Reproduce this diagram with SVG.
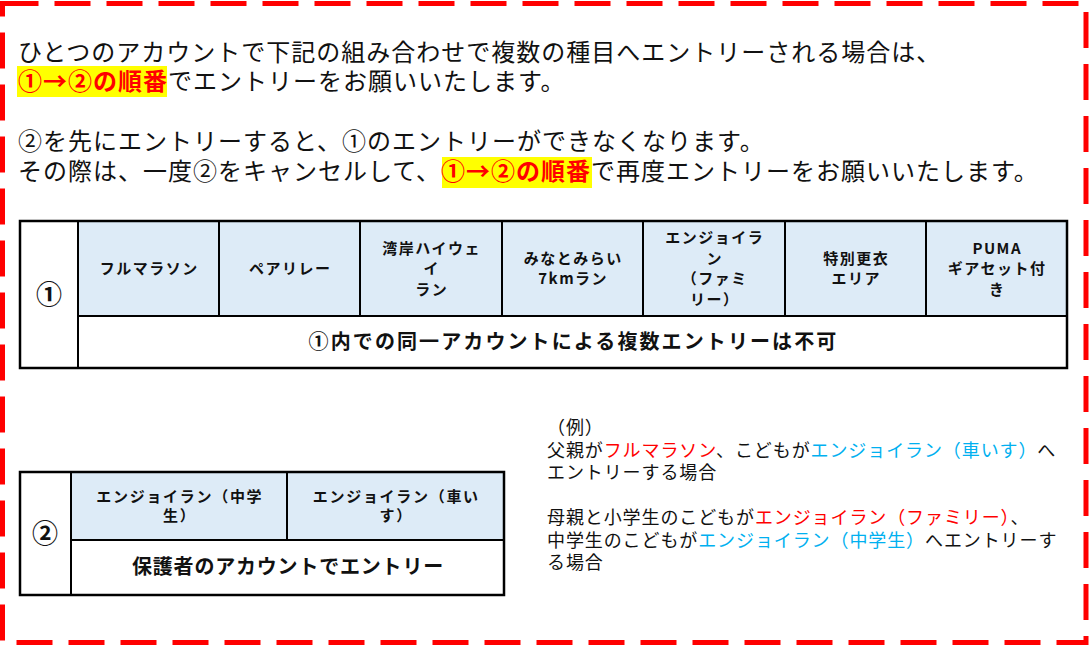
<svg xmlns="http://www.w3.org/2000/svg" width="1089" height="645" viewBox="0 0 1089 645">
<style>
text{font-family:"Noto Sans CJK JP","Noto Sans CJK SC",sans-serif;fill:#111;}
.body{font-size:24px;letter-spacing:1px;}
.hl{fill:#FFFF00;}
.em{fill:#FF0000;font-weight:bold;}
.cell{fill:#DDEBF7;}
.grid{fill:none;stroke:#000;stroke-width:2;}
.hd{font-size:15px;font-weight:bold;letter-spacing:1.5px;text-anchor:middle;}
.big{font-size:20px;font-weight:bold;text-anchor:middle;}
.num{font-size:26px;font-weight:bold;text-anchor:middle;}
.ex{font-size:18px;letter-spacing:0.9px;}
.r{fill:#FF0000;}
.b{fill:#00B0F0;}
</style>
<rect width="1089" height="645" fill="#fff"/>
<rect id="frame" x="2.5" y="3.5" width="1083.5" height="639" fill="none" stroke="#FF0000" stroke-width="5" stroke-dasharray="36 16"/>
<g id="connectors"/>
<g id="intro">
<rect class="hl" x="17" y="66" width="150" height="31"/>
<rect class="hl" x="442" y="157" width="150" height="31"/>
<text class="body" x="18" y="61">ひとつのアカウントで下記の組み合わせで複数の種目へエントリーされる場合は、</text>
<text class="body" x="18" y="90"><tspan class="em">①→②の順番</tspan>でエントリーをお願いいたします。</text>
<text class="body" x="18" y="150">②を先にエントリーすると、①のエントリーができなくなります。</text>
<text class="body" x="18" y="180">その際は、一度②をキャンセルして、<tspan class="em">①→②の順番</tspan>で再度エントリーをお願いいたします。</text>
</g>
<g id="table1">
<rect class="cell" x="78" y="221" width="989" height="95"/>
<rect x="20" y="221" width="1047" height="147" fill="none" stroke="#000" stroke-width="2.5"/>
<path class="grid" d="M78 221V368M219 221V316M360 221V316M502 221V316M643 221V316M785 221V316M926 221V316M78 316H1067"/>
<text class="num" x="49" y="304">①</text>
<text class="hd" x="149.2" y="274">フルマラソン</text>
<text class="hd" x="290.2" y="274">ペアリレー</text>
<text class="hd" x="431.7" y="253.5">湾岸ハイウェ<tspan x="431.7" y="274">イ</tspan><tspan x="431.7" y="294.5">ラン</tspan></text>
<text class="hd" x="573.2" y="263.5">みなとみらい<tspan x="573.2" y="284">7kmラン</tspan></text>
<text class="hd" x="714.7" y="243">エンジョイラ<tspan x="714.7" y="263.5">ン</tspan><tspan x="714.7" y="284">（ファミ</tspan><tspan x="714.7" y="304.5">リー）</tspan></text>
<text class="hd" x="856.2" y="263.5">特別更衣<tspan x="856.2" y="284">エリア</tspan></text>
<text class="hd" x="997.2" y="253.5">PUMA<tspan x="997.2" y="274">ギアセット付</tspan><tspan x="997.2" y="294.5">き</tspan></text>
<text class="big" x="573.5" y="349" style="letter-spacing:2.1px">①内での同一アカウントによる複数エントリーは不可</text>
</g>
<g id="table2">
<rect class="cell" x="71" y="472" width="433" height="68"/>
<rect x="20" y="472" width="484" height="123" fill="none" stroke="#000" stroke-width="2.5"/>
<path class="grid" d="M71 472V595M287 472V540M71 540H504"/>
<text class="num" x="45" y="543">②</text>
<text class="hd" x="179.8" y="501.5" style="letter-spacing:1.7px">エンジョイラン（中学<tspan x="179.8" y="521">生）</tspan></text>
<text class="hd" x="396.3" y="501.5" style="letter-spacing:1.7px">エンジョイラン（車い<tspan x="396.3" y="521">す）</tspan></text>
<text class="big" x="288" y="574" style="letter-spacing:0.8px">保護者のアカウントでエントリー</text>
</g>
<g id="example">
<text class="ex" x="547" y="433.5">（例）</text>
<text class="ex" x="547" y="457">父親が<tspan class="r">フルマラソン</tspan>、こどもが<tspan class="b">エンジョイラン（車いす）</tspan>へ</text>
<text class="ex" x="547" y="479">エントリーする場合</text>
<text class="ex" x="547" y="523.5">母親と小学生のこどもが<tspan class="r">エンジョイラン（ファミリー）</tspan>、</text>
<text class="ex" x="547" y="547">中学生のこどもが<tspan class="b">エンジョイラン（中学生）</tspan>へエントリーす</text>
<text class="ex" x="547" y="569">る場合</text>
</g>
</svg>
